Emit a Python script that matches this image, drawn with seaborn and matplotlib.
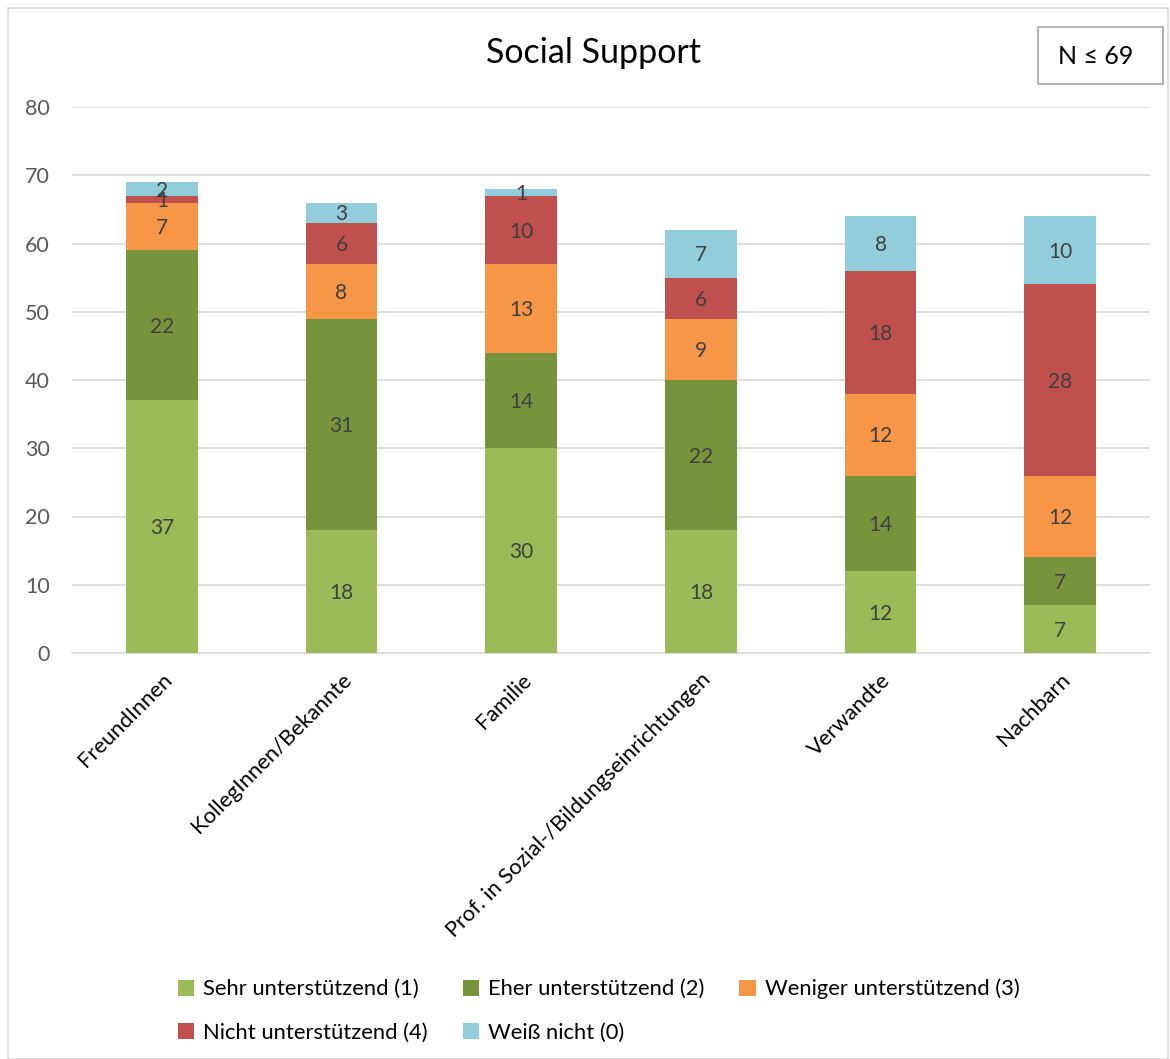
import numpy as np
import pandas as pd
import matplotlib
matplotlib.use("Agg")
import matplotlib.pyplot as plt
from matplotlib.patches import Rectangle, Patch
import seaborn as sns

categories = ["FreundInnen", "KollegInnen/Bekannte", "Familie",
              "Prof. in Sozial-/Bildungseinrichtungen", "Verwandte", "Nachbarn"]
series_names = ["Sehr unterstützend (1)", "Eher unterstützend (2)",
                "Weniger unterstützend (3)", "Nicht unterstützend (4)", "Weiß nicht (0)"]
sehr = [37, 18, 30, 18, 12, 7]
eher = [22, 31, 14, 22, 14, 7]
weniger = [7, 8, 13, 9, 12, 12]
nicht = [1, 6, 10, 6, 18, 28]
weiss = [2, 3, 1, 7, 8, 10]
colors = ["#9BBB59", "#77933C", "#F79646", "#C0504D", "#92CDDC"]

values = [sehr, eher, weniger, nicht, weiss]

sns.set_theme(style="white")
plt.rcParams['font.family'] = ['Lato', 'DejaVu Sans']

fig = plt.figure(figsize=(11.7, 10.59), dpi=100)
ax = fig.add_axes([72/1170, 1-653/1059, 1078/1170, (653-107)/1059])

cum = np.cumsum(np.array(values), axis=0)
# draw from top cumulative to bottom so that stacked segments show
for i in range(len(series_names)-1, -1, -1):
    df = pd.DataFrame({"cat": categories, "val": cum[i]})
    sns.barplot(data=df, x="cat", y="val", order=categories, color=colors[i],
                width=0.4, saturation=1, ax=ax, zorder=3, linewidth=0)

for i in range(len(series_names)):
    for j in range(len(categories)):
        v = values[i][j]
        base = cum[i][j] - v
        ax.text(j, base + v/2 - 0.25, str(v), ha="center", va="center",
                fontsize=15, color="#404040", zorder=5)

ax.set_ylim(0, 80)
ax.set_xlim(-0.5, 5.5)
ax.set_yticks(range(0, 81, 10))
ax.yaxis.grid(True, color="#D9D9D9", linewidth=1.2, zorder=0)
ax.set_axisbelow(True)
for s in ["top", "right", "left"]:
    ax.spines[s].set_visible(False)
ax.spines["bottom"].set_color("#D9D9D9")
ax.spines["bottom"].set_linewidth(1.2)
ax.set_xlabel("")
ax.set_ylabel("")
ax.tick_params(axis="y", labelsize=15.5, labelcolor="#595959", length=0, pad=16)
ax.tick_params(axis="x", labelsize=15.8, labelcolor="#000000", length=0, pad=12)
plt.setp(ax.get_xticklabels(), rotation=45, ha="right", rotation_mode="anchor")

fig.text(594/1170, 1-53/1059, "Social Support", ha="center", va="center",
         fontsize=24.5, color="#000000")

# N box
fig.patches.append(Rectangle((1038/1170, 1-84/1059), 125/1170, 57/1059,
                             transform=fig.transFigure, fill=False,
                             edgecolor="#A6A6A6", linewidth=1.2))
fig.text(1096/1170, 1-56/1059, "N ≤ 69", ha="center", va="center",
         fontsize=18, color="#000000")

# outer border
fig.patches.append(Rectangle((8/1170, 0), 1160/1170, 1-8/1059,
                             transform=fig.transFigure, fill=False,
                             edgecolor="#D9D9D9", linewidth=1.2))

# legend laid out row-wise (matplotlib fills columns first)
order = [0, 3, 1, 4, 2]
handles = [Patch(facecolor=colors[k], edgecolor="none") for k in order]
labels = [series_names[k] for k in order]
leg = fig.legend(handles, labels, ncol=3, loc="upper left",
                 bbox_to_anchor=(158/1170, 1-959/1059), frameon=False,
                 fontsize=15.8, handlelength=0.75, handleheight=0.75,
                 handletextpad=0.4, columnspacing=1.6, labelspacing=1.05)
for t in leg.get_texts():
    t.set_color("#000000")

fig.savefig("out.png", dpi=100)
